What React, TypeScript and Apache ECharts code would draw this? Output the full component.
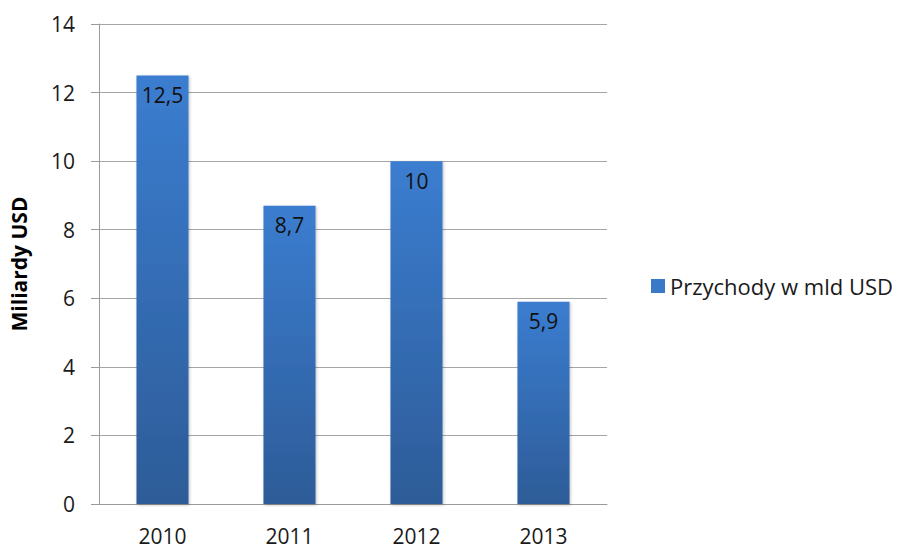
import React, { useEffect, useRef } from "react";
import * as echarts from "echarts";

const categories = ["2010", "2011", "2012", "2013"];
const values = [12.5, 8.7, 10, 5.9];
const seriesName = "Przychody w mld USD";
const yAxisName = "Miliardy USD";

export default function App() {
  const ref = useRef<HTMLDivElement>(null);
  useEffect(() => {
    if (!ref.current) return;
    const chart = echarts.init(ref.current, undefined, { renderer: "svg" });
    const font = "'Open Sans', 'Liberation Sans', sans-serif";
    chart.setOption({
      animation: false,
      backgroundColor: "#ffffff",
      grid: { left: 97, right: 298, top: 24, bottom: 44 },
      legend: {
        left: 646,
        top: 270,
        itemWidth: 14,
        itemHeight: 14,
        itemGap: 6,
        icon: "rect",
        data: [{ name: seriesName, itemStyle: { color: "#3a78c8" } }],
        textStyle: { fontFamily: font, fontSize: 22, color: "#1a1a1a" },
      },
      xAxis: {
        type: "category",
        data: categories,
        axisLine: { lineStyle: { color: "#9a9a9a", width: 1 } },
        axisTick: { show: false },
        axisLabel: { fontFamily: font, fontSize: 21, color: "#1a1a1a", margin: 21 },
      },
      yAxis: {
        type: "value",
        min: 0,
        max: 14,
        interval: 2,
        name: yAxisName,
        nameLocation: "middle",
        nameGap: 70,
        nameTextStyle: { fontFamily: font, fontSize: 21, fontWeight: "bold", color: "#000" },
        axisLine: { show: true, lineStyle: { color: "#9a9a9a", width: 1 } },
        axisTick: { show: true, length: 8, lineStyle: { color: "#9a9a9a" } },
        splitLine: { lineStyle: { color: "#a6a6a6", width: 1 } },
        axisLabel: { fontFamily: font, fontSize: 21, color: "#1a1a1a", margin: 24 },
      },
      series: [
        {
          type: "bar",
          name: seriesName,
          data: values,
          barWidth: "41%",
          itemStyle: {
            color: new echarts.graphic.LinearGradient(0, 0, 0, 1, [
              { offset: 0, color: "#3b7dd0" },
              { offset: 1, color: "#2d5c98" },
            ]),
            shadowColor: "rgba(0,0,0,0.25)",
            shadowBlur: 3,
            shadowOffsetX: 1,
            shadowOffsetY: 1,
          },
          label: {
            show: true,
            position: "insideTop",
            distance: 9,
            fontFamily: font,
            fontSize: 21,
            color: "#111",
            formatter: (p: any) => String(p.value).replace(".", ","),
          },
        },
      ],
    });
    return () => chart.dispose();
  }, []);
  return (
    <div
      ref={ref}
      style={{ position: "fixed", left: 0, top: 0, width: 905, height: 548 }}
    />
  );
}
